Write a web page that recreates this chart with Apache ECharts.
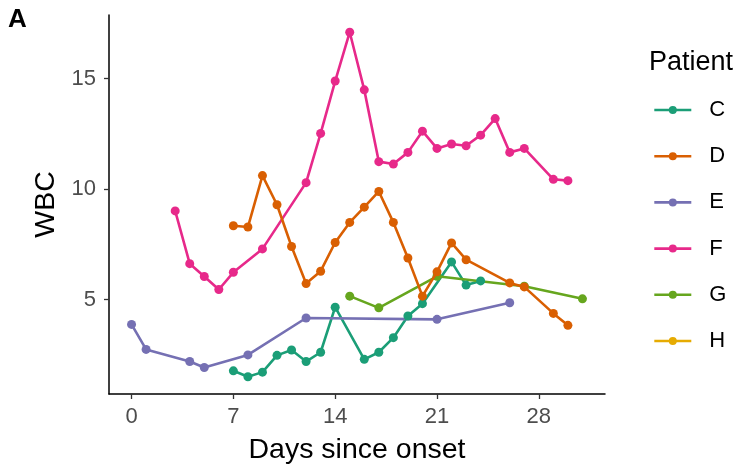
<!DOCTYPE html>
<html>
<head>
<meta charset="utf-8">
<script src="https://cdn.jsdelivr.net/npm/echarts@6/dist/echarts.min.js"></script>
<style>html,body{margin:0;padding:0;background:#fff;}#c{width:751px;height:465px;}</style>
</head>
<body>
<div id="c"></div>
<script>
var patients = ['C','D','E','F','G','H'];
var colors = ['#1B9E77','#D95F02','#7570B3','#E7298A','#66A61E','#E6AB02'];
var xTicks = [0,7,14,21,28];
var yTicks = [5,10,15];

var daysC = [7,8,9,10,11,12,13,14,16,17,18,19,20,22,23,24];
var wbcC  = [1.77,1.50,1.71,2.47,2.71,2.19,2.61,4.65,2.29,2.61,3.27,4.25,4.81,6.70,5.65,5.84];
var daysD = [7,8,9,10,11,12,13,14,15,16,17,18,19,20,21,22,23,26,27,29,30];
var wbcD  = [8.34,8.28,10.61,9.29,7.40,5.72,6.28,7.58,8.49,9.18,9.89,8.49,6.88,5.15,6.25,7.56,6.80,5.75,5.57,4.37,3.83];
var daysE = [0,1,4,5,8,12,21,26];
var wbcE  = [3.87,2.74,2.19,1.92,2.49,4.16,4.10,4.85];
var daysF = [3,4,5,6,7,9,12,13,14,15,16,17,18,19,20,21,22,23,24,25,26,27,29,30];
var wbcF  = [9.01,6.62,6.04,5.45,6.23,7.29,10.29,12.52,14.89,17.10,14.49,11.24,11.13,11.66,12.62,11.84,12.04,11.96,12.44,13.19,11.66,11.84,10.44,10.38];
var daysG = [15,17,21,27,31];
var wbcG  = [5.15,4.62,6.05,5.60,5.03];
var daysH = [];
var wbcH  = [];

var allDays = [daysC,daysD,daysE,daysF,daysG,daysH];
var allWbc = [wbcC,wbcD,wbcE,wbcF,wbcG,wbcH];

function pairs(d, v){ return d.map(function(x,i){ return [x, v[i]]; }); }

var series = patients.map(function(p, i){
  return {
    name: p,
    type: 'line',
    data: pairs(allDays[i], allWbc[i]),
    symbol: 'circle',
    symbolSize: 9,
    showAllSymbol: true,
    z: p === 'D' ? 3 : 2,
    lineStyle: {width: 2.6, color: colors[i]},
    itemStyle: {color: colors[i]},
    emphasis: {disabled: true},
    animation: false
  };
});

var chart = echarts.init(document.getElementById('c'), null, {renderer:'canvas'});
chart.setOption({
  backgroundColor: '#fff',
  animation: false,
  color: colors,
  title: [
    {text: 'A', left: 3, top: 2, textStyle: {fontFamily: 'Liberation Sans, Arial, sans-serif', fontSize: 26, fontWeight: 'bold', color: '#000'}},
    {text: 'Patient', left: 644, top: 44, textStyle: {fontFamily: 'Liberation Sans, Arial, sans-serif', fontSize: 27, fontWeight: 'normal', color: '#000'}}
  ],
  grid: {left: 109, right: 146, top: 15, bottom: 71, containLabel: false, outerBoundsMode: 'none'},
  legend: {
    orient: 'vertical',
    left: 648,
    top: 94,
    itemWidth: 37,
    itemHeight: 10,
    itemGap: 24.2,
    data: patients,
    selectedMode: false,
    lineStyle: {width: 2.6},
    textStyle: {fontFamily: 'Liberation Sans, Arial, sans-serif', fontSize: 22, lineHeight: 22, color: '#000', padding: [0,0,0,13]}
  },
  xAxis: {
    type: 'value',
    min: -1.55,
    max: 32.55,
    name: 'Days since onset',
    nameLocation: 'middle',
    nameGap: 42,
    nameTextStyle: {fontFamily: 'Liberation Sans, Arial, sans-serif', fontSize: 28.5, color: '#000'},
    axisLine: {show: true, onZero: false, lineStyle: {color: '#000', width: 1.5}},
    axisTick: {show: true, length: 5, customValues: xTicks, lineStyle: {color: '#333', width: 1.3}},
    axisLabel: {customValues: xTicks, margin: 12, fontFamily: 'Liberation Sans, Arial, sans-serif', fontSize: 22, color: '#4D4D4D'},
    splitLine: {show: false}
  },
  yAxis: {
    type: 'value',
    min: 0.72,
    max: 17.88,
    name: 'WBC',
    nameLocation: 'middle',
    nameGap: 46,
    nameTextStyle: {fontFamily: 'Liberation Sans, Arial, sans-serif', fontSize: 28.5, color: '#000'},
    axisLine: {show: true, onZero: false, lineStyle: {color: '#000', width: 1.5}},
    axisTick: {show: true, length: 5, customValues: yTicks, lineStyle: {color: '#333', width: 1.3}},
    axisLabel: {customValues: yTicks, margin: 13, fontFamily: 'Liberation Sans, Arial, sans-serif', fontSize: 22, color: '#4D4D4D'},
    splitLine: {show: false}
  },
  series: series
});
</script>
</body>
</html>
